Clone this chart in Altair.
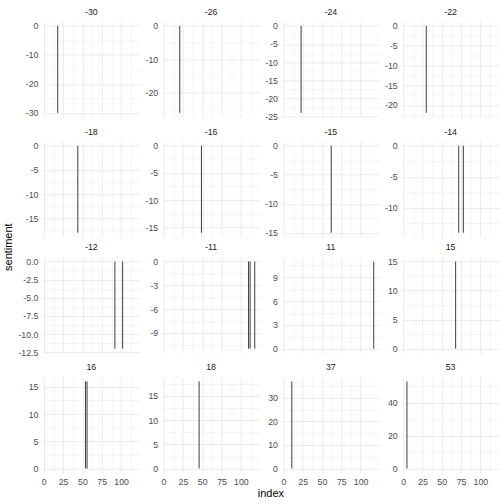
import altair as alt
import pandas as pd

# facet panels (sentiment values) in display order
panels = [-30, -26, -24, -22, -18, -16, -15, -14, -12, -11, 11, 15, 16, 18, 37, 53]

# bars: index position and sentiment value
bar_index = [18, 21, 23, 30, 44, 49, 62, 72, 78, 92, 102, 110, 112, 118, 117, 68, 54, 56, 46, 11, 5]
bar_sentiment = [-30, -26, -24, -22, -18, -16, -15, -14, -14, -12, -12, -11, -11, -11, 11, 15, 16, 16, 18, 37, 53]

# tick labels
x_ticks = [0, 25, 50, 75, 100]
y_ticks = {
    -30: [-30, -20, -10, 0],
    -26: [-20, -10, 0],
    -24: [-25, -20, -15, -10, -5, 0],
    -22: [-20, -15, -10, -5, 0],
    -18: [-15, -10, -5, 0],
    -16: [-15, -10, -5, 0],
    -15: [-15, -10, -5, 0],
    -14: [-10, -5, 0],
    -12: [-12.5, -10, -7.5, -5, -2.5, 0],
    -11: [-9, -6, -3, 0],
    11: [0, 3, 6, 9],
    15: [0, 5, 10, 15],
    16: [0, 5, 10, 15],
    18: [0, 5, 10, 15],
    37: [0, 10, 20, 30],
    53: [0, 20, 40],
}
y_format = {-12: ".1f"}

df = pd.DataFrame({"index": bar_index, "sentiment": bar_sentiment})

BAR = "#3d3d3d"
GRID = "#EBEBEB"
FONT = "Liberation Sans"
PW, PH = 97, 96


def expand(lo, hi):
    r = hi - lo
    return [lo - 0.05 * r, hi + 0.05 * r]


def minors(majors, dom):
    b = sorted(majors)
    bd = b[1] - b[0]
    if dom[0] < b[0]:
        b = [b[0] - bd] + b
    if dom[1] > b[-1]:
        b = b + [b[-1] + bd]
    mids = [(b[i] + b[i + 1]) / 2 for i in range(len(b) - 1)]
    return [m for m in mids if dom[0] <= m <= dom[1]]


xdom = expand(min(bar_index) - 0.45, max(bar_index) + 0.45)
x_minor = minors(x_ticks, xdom)
x_values = [v for v in x_ticks if xdom[0] <= v <= xdom[1]] + x_minor


def grid_width(majors):
    lst = ",".join(str(m) for m in majors)
    return {"condition": {"test": f"indexof([{lst}], datum.value) >= 0", "value": 1.0},
            "value": 0.5}


COMMON = dict(domain=False, ticks=False, tickSize=0, title=None,
              labelFont=FONT, labelFontSize=8.8, labelColor="#4D4D4D", gridColor=GRID,
              labelOverlap=False, labelFlush=False)


def make_panel(p, bottom):
    sub = df[df.sentiment == p]
    vals = list(sub.sentiment) + [0]
    ydom = expand(min(vals), max(vals))
    majors = [v for v in y_ticks[p] if ydom[0] <= v <= ydom[1]]
    ymin = minors(y_ticks[p], ydom)
    lst = ",".join(str(m) for m in majors)
    fmt = y_format.get(p, "")
    yaxis = alt.Axis(
        values=majors + ymin,
        labelExpr=f"indexof([{lst}], datum.value) >= 0 ? replace(format(datum.value, '{fmt}'), '\u2212', '-') : ''",
        gridWidth=grid_width(majors),
        minExtent=23,
        maxExtent=23,
        labelPadding=5,
        **COMMON,
    )
    xlst = ",".join(str(m) for m in x_ticks)
    if bottom:
        xaxis = alt.Axis(
            values=x_values,
            labelExpr=f"indexof([{xlst}], datum.value) >= 0 ? datum.value + '' : ''",
            gridWidth=grid_width(x_ticks),
            labelPadding=5,
            **COMMON,
        )
    else:
        xaxis = alt.Axis(
            values=x_values,
            labels=False,
            gridWidth=grid_width(x_ticks),
            labelPadding=0,
            minExtent=0,
            maxExtent=0,
            **COMMON,
        )
    return alt.Chart(sub).mark_rule(color=BAR, strokeWidth=1).encode(
        x=alt.X("index:Q", scale=alt.Scale(domain=xdom, nice=False, zero=False), axis=xaxis),
        y=alt.Y("sentiment:Q", scale=alt.Scale(domain=ydom, nice=False, zero=False), axis=yaxis),
        y2=alt.datum(0),
    ).properties(
        width=PW,
        height=PH,
        title=alt.TitleParams(text=str(p), fontSize=8.8, color="#1A1A1A", font=FONT,
                              fontWeight="normal", anchor="middle", frame="group",
                              baseline="alphabetic", offset=-2),
    )


rows = []
for r in range(4):
    cells = [make_panel(panels[r * 4 + c], r == 3) for c in range(4)]
    rows.append(alt.hconcat(*cells, spacing=0))

grid = alt.vconcat(*rows, spacing=5.1,
                   title=alt.TitleParams(text="sentiment", orient="left", anchor="middle",
                                         fontSize=11, font=FONT, fontWeight="normal",
                                         color="#000000", offset=4))

chart = alt.vconcat(grid, title=alt.TitleParams(text="index", orient="bottom", anchor="middle",
                                                fontSize=11, font=FONT, fontWeight="normal",
                                                color="#000000", offset=1, dx=20)
                    ).properties(
    padding={"left": 2, "top": 7, "right": 5, "bottom": 5}
).configure(font=FONT).configure_view(stroke=None)

chart.save("out.html", embed_options={"renderer": "svg", "actions": False})
